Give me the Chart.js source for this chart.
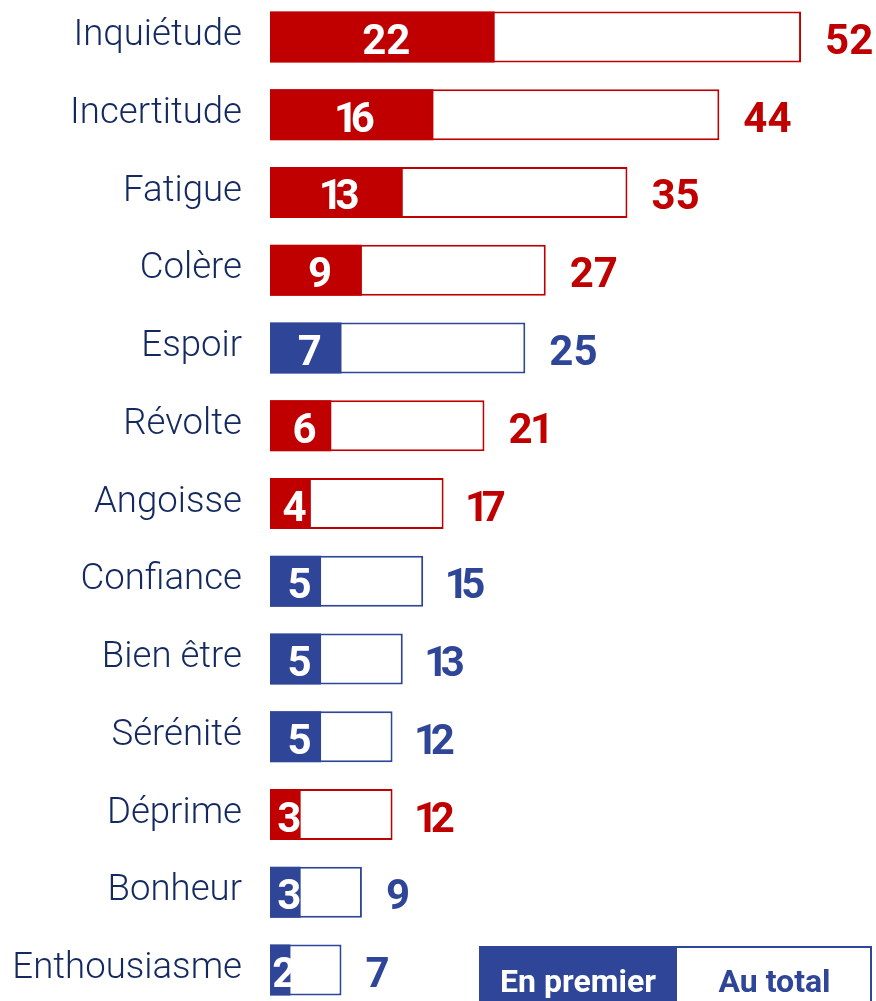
<!DOCTYPE html>
<html>
<head>
<meta charset="utf-8">
<script src="https://cdn.jsdelivr.net/npm/chart.js@4.4.1/dist/chart.umd.min.js"></script>
<style>
    html, body { margin: 0; padding: 0; background: #fff; overflow: hidden; }
    #wrap { position: absolute; left: 0; top: -2px; width: 876px; height: 1011px; }
</style>
</head>
<body>
<div id="wrap"><canvas id="chart"></canvas></div>
<script>
const categories = ['Inquiétude', 'Incertitude', 'Fatigue', 'Colère', 'Espoir', 'Révolte', 'Angoisse',
                    'Confiance', 'Bien être', 'Sérénité', 'Déprime', 'Bonheur', 'Enthousiasme'];
const premier = [22, 16, 13, 9, 7, 6, 4, 5, 5, 5, 3, 3, 2];
const total = [52, 44, 35, 27, 25, 21, 17, 15, 13, 12, 12, 9, 7];
const negative = [true, true, true, true, false, true, true, false, false, false, true, false, false];
const legendLabels = ['En premier', 'Au total'];

const RED = '#c00000';
const BLUE = '#2e4598';
const NAVY = '#13295f';
const colors = negative.map(n => n ? RED : BLUE);

// Roboto digits are tabular; the source font has a narrow "1", so draw char by char
function drawNumber(ctx, value, x, y, align) {
    const chars = String(value).split('');
    const widths = chars.map(c => ctx.measureText(c).width - (c === '1' ? 10 : 0));
    const w = widths.reduce((a, b) => a + b, 0);
    let cx = align === 'center' ? x - w / 2 : x;
    ctx.textAlign = 'left';
    chars.forEach((c, i) => {
        ctx.fillText(c, cx - (c === '1' ? 2.5 : 0), y);
        cx += widths[i];
    });
}

// numbers inside the filled bar and after the outlined one
const valueLabels = {
    id: 'valueLabels',
    afterDatasetsDraw(chart) {
        const ctx = chart.ctx;
        const metaP = chart.getDatasetMeta(0);
        const metaT = chart.getDatasetMeta(1);
        ctx.save();
        ctx.font = 'bold 42px Roboto';
        ctx.textBaseline = 'alphabetic';
        metaP.data.forEach((bar, i) => {
            ctx.fillStyle = '#fff';
            drawNumber(ctx, premier[i], (bar.base + bar.x) / 2 + 4, bar.y + 17, 'center');
            const tb = metaT.data[i];
            ctx.fillStyle = colors[i];
            drawNumber(ctx, total[i], tb.x + 24, tb.y + 17, 'left');
        });
        ctx.restore();
    }
};

// boxed legend at the bottom right
const boxLegend = {
    id: 'boxLegend',
    afterDraw(chart) {
        const ctx = chart.ctx;
        const x = 479, y = 948, w = 393, h = 80, split = 198;
        ctx.save();
        ctx.fillStyle = '#fff';
        ctx.fillRect(x, y, w, h);
        ctx.fillStyle = BLUE;
        ctx.fillRect(x, y, split, h);
        ctx.strokeStyle = BLUE;
        ctx.lineWidth = 2;
        ctx.strokeRect(x + 1, y + 1, w - 2, h);
        ctx.font = 'bold 32px Roboto';
        ctx.textAlign = 'center';
        ctx.textBaseline = 'alphabetic';
        ctx.fillStyle = '#fff';
        ctx.fillText(legendLabels[0], x + split / 2, 994);
        ctx.fillStyle = BLUE;
        ctx.fillText(legendLabels[1], x + split + (w - split) / 2, 994);
        ctx.restore();
    }
};

const ctx = document.getElementById('chart').getContext('2d');
window.emotionChart = new Chart(ctx, {
    type: 'bar',
    data: {
        labels: categories,
        datasets: [{
            label: legendLabels[0],
            data: premier,
            backgroundColor: colors,
            borderWidth: 0,
            grouped: false,
            order: 0,
            barPercentage: 0.656,
            categoryPercentage: 1
        }, {
            label: legendLabels[1],
            data: total,
            backgroundColor: '#fff',
            borderColor: colors,
            borderWidth: 2,
            borderSkipped: false,
            grouped: false,
            order: 1,
            barPercentage: 0.656,
            categoryPercentage: 1
        }]
    },
    options: {
        indexAxis: 'y',
        responsive: true,
        maintainAspectRatio: false,
        animation: false,
        layout: { padding: 0 },
        plugins: {
            legend: { display: false },
            tooltip: { enabled: false }
        },
        scales: {
            x: {
                display: false,
                min: 0,
                max: 59.34
            },
            y: {
                grid: { display: false, drawTicks: false },
                border: { display: false },
                ticks: {
                    padding: 28,
                    labelOffset: -1,
                    color: NAVY,
                    font: { family: 'Roboto', size: 36.6, weight: 300 }
                },
                afterFit(scale) {
                    scale.width = 270;
                    scale.paddingTop = 0;
                    scale.paddingBottom = 0;
                }
            }
        }
    },
    plugins: [valueLabels, boxLegend]
});
</script>
</body>
</html>
